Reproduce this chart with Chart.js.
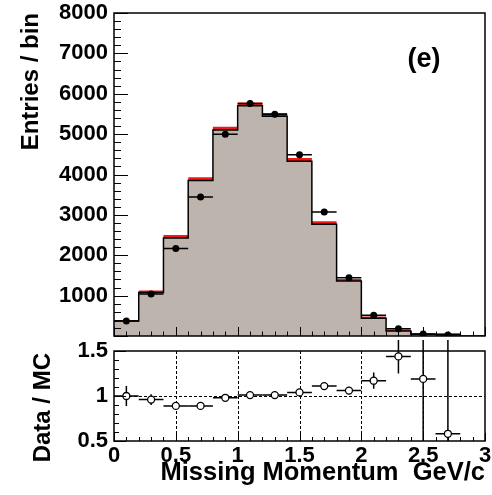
<!DOCTYPE html>
<html>
<head>
<meta charset="utf-8">
<title>Missing Momentum</title>
<script src="https://cdn.jsdelivr.net/npm/chart.js@4.4.1/dist/chart.umd.min.js"></script>
<style>
  html, body { margin: 0; padding: 0; background: #fff; }
  #wrap { position: relative; width: 492px; height: 495px; overflow: hidden; }
  #mainCanvas { position: absolute; left: 0; top: 0; }
  #ratioCanvas { position: absolute; left: 0; top: 340px; }
</style>
</head>
<body>
<div id="wrap">
  <canvas id="mainCanvas" width="492" height="340"></canvas>
  <canvas id="ratioCanvas" width="492" height="155"></canvas>
</div>
<script>
// --- HISTOGRAM DATA (0.2 GeV/c bins) ---
const binLow     = [0.0, 0.2, 0.4, 0.6, 0.8, 1.0, 1.2, 1.4, 1.6, 1.8, 2.0, 2.2, 2.4, 2.6, 2.8];
const binWidth   = 0.2;
const mcCounts   = [370, 1080, 2430, 3850, 5100, 5700, 5440, 4330, 2770, 1360, 440, 125, 42, 43, 0];
const mcErr      = [25, 45, 70, 80, 85, 85, 85, 80, 70, 50, 45, 35, 15, 15, 0];
const dataCounts = [370, 1040, 2170, 3440, 5000, 5760, 5490, 4490, 3070, 1440, 515, 180, 50, 25];
const dataErr    = [20, 32, 47, 59, 71, 76, 74, 67, 55, 38, 23, 13, 7, 5];
const ratio      = [1.00, 0.96, 0.89, 0.89, 0.98, 1.01, 1.01, 1.04, 1.11, 1.06, 1.17, 1.44, 1.19, 0.58];
const ratioErr   = [0.11, 0.06, 0.02, 0.015, 0.015, 0.015, 0.015, 0.02, 0.025, 0.04, 0.09, 0.19, 1.2, 1.2];

// --- AXIS TICK LABELS ---
const mainYTicks  = [1000, 2000, 3000, 4000, 5000, 6000, 7000, 8000];
const ratioYTicks = [0.5, 1, 1.5];
const xTicks      = [0, 0.5, 1, 1.5, 2, 2.5, 3];

const FONT = '"Liberation Sans", Arial, Helvetica, sans-serif';
const FILL_GREY = '#bdb5ad';
const BAND_RED = '#f01818';

// bin centres / edges for the step outline
const xMax = binLow[binLow.length - 1] + binWidth;
const stepPoints = vals => binLow.map((lo, i) => ({ x: lo, y: vals[i] }))
    .concat([{ x: xMax, y: vals[vals.length - 1] }]);
const centrePoints = vals => vals.map((v, i) => ({ x: binLow[i] + binWidth / 2, y: v }));
const plainLabel = v => String(v);

// fixed axis sizes, no extra room for overhanging end labels
const fixWidth = w => s => { s.width = w; s.paddingTop = 0; s.paddingBottom = 0; };
const fixHeight = h => s => { s.height = h; s.paddingLeft = 0; s.paddingRight = 0; };

// --- ERROR BARS (full bin width in x, +-err in y) ---
function drawErrorBars(chart, dsIndex, yErrs, clipTop) {
    const ctx = chart.ctx;
    const meta = chart.getDatasetMeta(dsIndex);
    const xs = chart.scales.x, ys = chart.scales.y;
    const a = chart.chartArea;
    ctx.save();
    ctx.beginPath();
    ctx.rect(a.left, clipTop, a.right - a.left, a.bottom - clipTop);
    ctx.clip();
    ctx.strokeStyle = '#000';
    ctx.lineWidth = 1.5;
    meta.data.forEach((pt, i) => {
        const raw = chart.data.datasets[dsIndex].data[i];
        const x0 = xs.getPixelForValue(raw.x - binWidth / 2);
        const x1 = xs.getPixelForValue(raw.x + binWidth / 2);
        const y0 = ys.getPixelForValue(raw.y - yErrs[i]);
        const y1 = ys.getPixelForValue(raw.y + yErrs[i]);
        ctx.beginPath();
        ctx.moveTo(x0, pt.y); ctx.lineTo(x1, pt.y);
        ctx.moveTo(pt.x, y0); ctx.lineTo(pt.x, y1);
        ctx.stroke();
    });
    ctx.restore();
}

// --- ROOT STYLE FRAME WITH INWARD TICKS ---
function drawFrame(chart, t) {
    const { ctx, chartArea: a, scales: { x, y } } = chart;
    ctx.save();
    ctx.strokeStyle = '#000';
    ctx.lineWidth = 1;
    const ny = Math.round((y.max - y.min) / t.yMinor);
    for (let i = 0; i <= ny; i++) {
        const v = y.min + i * t.yMinor;
        const major = Math.abs(v / t.yMajor - Math.round(v / t.yMajor)) < 1e-6;
        const py = Math.round(y.getPixelForValue(v)) + 0.5;
        ctx.beginPath();
        ctx.moveTo(a.left, py);
        ctx.lineTo(a.left + (major ? t.yMajorLen : t.yMinorLen), py);
        ctx.stroke();
    }
    const nx = Math.round((x.max - x.min) / t.xMinor);
    for (let i = 0; i <= nx; i++) {
        const v = x.min + i * t.xMinor;
        const major = Math.abs(v / t.xMajor - Math.round(v / t.xMajor)) < 1e-6;
        const px = Math.round(x.getPixelForValue(v)) + 0.5;
        ctx.beginPath();
        ctx.moveTo(px, a.bottom);
        ctx.lineTo(px, a.bottom - (major ? t.xMajorLen : t.xMinorLen));
        ctx.stroke();
    }
    ctx.lineWidth = 1.5;
    ctx.strokeRect(a.left, a.top, a.right - a.left, a.bottom - a.top);
    ctx.restore();
}

function drawVerticalTitle(ctx, text, baselineX, topY) {
    ctx.save();
    ctx.translate(baselineX, topY);
    ctx.rotate(-Math.PI / 2);
    ctx.font = 'bold 24px ' + FONT;
    ctx.fillStyle = '#000';
    ctx.textAlign = 'right';
    ctx.textBaseline = 'alphabetic';
    ctx.fillText(text, 0, 0);
    ctx.restore();
}

const tickFont = { family: FONT, size: 22, weight: 'bold' };

// --- MAIN PANEL: MC histogram + data ---
const mainPlugin = {
    id: 'mainPanel',
    beforeDatasetDraw(chart, args) {
        if (args.index === 0) drawErrorBars(chart, 0, dataErr, chart.chartArea.top);
    },
    afterDraw(chart) {
        drawFrame(chart, { yMinor: 200, yMajor: 1000, yMajorLen: 14, yMinorLen: 7,
                           xMinor: 0.1, xMajor: 0.5, xMajorLen: 9, xMinorLen: 4.5 });
        const ctx = chart.ctx;
        drawVerticalTitle(ctx, 'Entries / bin', 38, 13);
        ctx.save();
        ctx.font = 'bold 27px ' + FONT;
        ctx.fillStyle = '#000';
        ctx.textAlign = 'center';
        ctx.fillText('(e)', 424, 67);
        ctx.restore();
    }
};

new Chart(document.getElementById('mainCanvas'), {
    type: 'line',
    data: {
        datasets: [{
            label: 'Data',
            data: centrePoints(dataCounts),
            showLine: false,
            pointRadius: 3.5,
            pointBackgroundColor: '#000',
            pointBorderWidth: 0,
            order: 1
        }, {
            label: 'MC',
            data: stepPoints(mcCounts),
            stepped: 'before',
            fill: 'origin',
            backgroundColor: FILL_GREY,
            borderColor: '#000',
            borderWidth: 1.5,
            pointRadius: 0,
            order: 2
        }, {
            label: 'MC error',
            data: stepPoints(mcCounts.map((v, i) => v + mcErr[i])),
            stepped: 'before',
            fill: 1,
            backgroundColor: BAND_RED,
            borderWidth: 0,
            pointRadius: 0,
            order: 3
        }]
    },
    options: {
        responsive: false,
        animation: false,
        devicePixelRatio: 1,
        layout: { padding: { top: 13, right: 7, bottom: 0, left: 0 } },
        plugins: { legend: { display: false }, tooltip: { enabled: false } },
        scales: {
            x: {
                type: 'linear', min: 0, max: 3,
                ticks: { display: false },
                grid: { display: false, drawTicks: false },
                border: { display: false },
                afterFit: fixHeight(1)
            },
            y: {
                min: 0, max: 8000,
                afterBuildTicks: s => { s.ticks = mainYTicks.map(v => ({ value: v })); },
                ticks: { font: tickFont, color: '#000', padding: 6, autoSkip: false, callback: plainLabel },
                grid: { display: false, drawTicks: false },
                border: { display: false },
                afterFit: fixWidth(114)
            }
        }
    },
    plugins: [mainPlugin]
});

// --- RATIO PANEL: Data / MC ---
const ratioPlugin = {
    id: 'ratioPanel',
    beforeDatasetsDraw(chart) {
        const { ctx, chartArea: a, scales: { x, y } } = chart;
        ctx.save();
        ctx.strokeStyle = '#000';
        ctx.lineWidth = 1;
        ctx.setLineDash([3, 2]);
        xTicks.filter(v => v > x.min && v < x.max).forEach(v => {
            const px = Math.round(x.getPixelForValue(v)) + 0.5;
            ctx.beginPath(); ctx.moveTo(px, a.top); ctx.lineTo(px, a.bottom); ctx.stroke();
        });
        ratioYTicks.filter(v => v > y.min && v < y.max).forEach(v => {
            const py = Math.round(y.getPixelForValue(v)) + 0.5;
            ctx.beginPath(); ctx.moveTo(a.left, py); ctx.lineTo(a.right, py); ctx.stroke();
        });
        ctx.restore();
    },
    beforeDatasetDraw(chart, args) {
        if (args.index === 0) drawErrorBars(chart, 0, ratioErr, 0);
    },
    afterDraw(chart) {
        drawFrame(chart, { yMinor: 0.1, yMajor: 0.5, yMajorLen: 12, yMinorLen: 5,
                           xMinor: 0.1, xMajor: 0.5, xMajorLen: 8, xMinorLen: 4 });
        const ctx = chart.ctx;
        drawVerticalTitle(ctx, 'Data / MC', 50, 13);
        ctx.save();
        ctx.font = 'bold 25.5px ' + FONT;
        ctx.fillStyle = '#000';
        ctx.textAlign = 'right';
        ctx.textBaseline = 'alphabetic';
        ctx.fillText('Missing Momentum  GeV/c', 485, 140);
        ctx.restore();
    }
};

new Chart(document.getElementById('ratioCanvas'), {
    type: 'line',
    data: {
        datasets: [{
            label: 'Data / MC',
            data: centrePoints(ratio),
            showLine: false,
            pointRadius: 3.5,
            pointBackgroundColor: '#fff',
            pointBorderColor: '#000',
            pointBorderWidth: 1.3
        }]
    },
    options: {
        responsive: false,
        animation: false,
        devicePixelRatio: 1,
        layout: { padding: { top: 11, right: 7, bottom: 0, left: 0 } },
        plugins: { legend: { display: false }, tooltip: { enabled: false } },
        scales: {
            x: {
                type: 'linear', min: 0, max: 3,
                afterBuildTicks: s => { s.ticks = xTicks.map(v => ({ value: v })); },
                ticks: { font: tickFont, color: '#000', padding: 2, maxRotation: 0, autoSkip: false, callback: plainLabel },
                grid: { display: false, drawTicks: false },
                border: { display: false },
                afterFit: fixHeight(54)
            },
            y: {
                min: 0.5, max: 1.5,
                afterBuildTicks: s => { s.ticks = ratioYTicks.map(v => ({ value: v })); },
                ticks: { font: tickFont, color: '#000', padding: 6, autoSkip: false, callback: plainLabel },
                grid: { display: false, drawTicks: false },
                border: { display: false },
                afterFit: fixWidth(114)
            }
        }
    },
    plugins: [ratioPlugin]
});
</script>
</body>
</html>
